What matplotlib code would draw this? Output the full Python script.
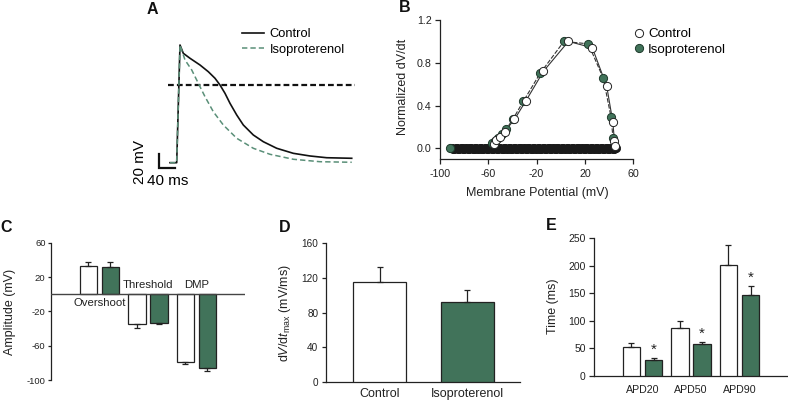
import numpy as np
import matplotlib.pyplot as plt

plt.rcParams['font.family'] = ['Liberation Sans', 'DejaVu Sans']
plt.rcParams['axes.unicode_minus'] = False
plt.rcParams['mathtext.fontset'] = 'custom'
plt.rcParams['mathtext.rm'] = 'Liberation Sans'
plt.rcParams['mathtext.it'] = 'Liberation Sans:italic'

GREEN = '#41735a'
TRACE_GREEN = '#5a8f78'
INK = '#222222'

# ---- A: action potential traces (time in ms, voltage in mV)
ap_ctrl_t = [-15, 1.75, 10, 18.3, 35, 60, 80.8, 97.5, 110, 122.5, 135, 151.8, 168.3, 193.3,
             218.3, 251.8, 293.3, 335, 376.8, 439.3]
ap_ctrl_v = [-111.1, -111.1, 57.2, 45.3, 38.2, 28.6, 19.0, 9.6, 0.0, -11.9, -26.2, -42.9, -57.2,
             -71.5, -81.1, -90.5, -97.7, -101.5, -104.0, -104.8]
ap_iso_t = [-15, 1.75, 10, 22.5, 39.3, 55.8, 72.5, 93.3, 118.3, 151.8, 193.3, 235, 293.3, 360,
            439.3]
ap_iso_v = [-111.1, -111.1, 57.2, 35.8, 21.5, 2.4, -16.7, -38.2, -57.2, -76.2, -90.5, -99.1,
            -106.2, -109.7, -110.5]
ref_level = 0.0
scale_ms = 40
scale_mv = 20

# ---- B: normalized dV/dt vs membrane potential
ctrl_up_v = [-55.0, -53.6, -50.5, -46.6, -38.4, -29.1, -14.4, 6.3, 26.1, 38.0, 43.0, 44.4, 45.0]
ctrl_up_d = [0.04, 0.08, 0.11, 0.155, 0.27, 0.44, 0.72, 1.0, 0.94, 0.58, 0.25, 0.07, 0.02]
iso_up_v = [-57.2, -54.4, -51.7, -48.9, -45.3, -39.8, -31.0, -17.2, 2.6, 22.8, 35.2, 41.6, 43.2]
iso_up_d = [0.05, 0.07, 0.10, 0.13, 0.177, 0.27, 0.44, 0.70, 1.0, 0.977, 0.654, 0.29, 0.094]
iso_rest_v = [-91.7]
iso_rest_d = [0.0]
# repolarisation phase: dense points sitting on dV/dt ~ 0
ctrl_repol_v = [-90, -88, -86, -84, -82, -80, -78, -76, -74, -72, -70, -68, -66, -64, -62, -60,
                -58, -56, -54, -52, -50, -48, -46, -44, -42, -40, -38, -36, -34, -32, -30, -28,
                -26, -24, -22, -20, -18, -16, -14, -12, -10, -8, -6, -4, -2, 0, 2, 4, 6, 8, 10,
                12, 14, 16, 18, 20, 22, 24, 26, 28, 30, 32, 34, 36, 38, 40, 42, 44, 46]
iso_repol_v = [-91, -89, -87, -85, -83, -81, -79, -77, -75, -73, -71, -69, -67, -65, -63, -61,
               -59, -57, -55, -53, -51, -49, -47, -45, -43, -41, -39, -37, -35, -33, -31, -29,
               -27, -25, -23, -21, -19, -17, -15, -13, -11, -9, -7, -5, -3, -1, 1, 3, 5, 7, 9,
               11, 13, 15, 17, 19, 21, 23, 25, 27, 29, 31, 33, 35, 37, 39, 41, 43, 45]
repol_d = [0.0, -0.004, 0.003, -0.002]

# ---- C: amplitudes (mV)
c_names = ['Overshoot', 'Threshold', 'DMP']
c_ctrl = [33.2, -34.7, -79.4]
c_ctrl_err = [4.7, 5.1, 1.6]
c_iso = [32.0, -34.0, -86.4]
c_iso_err = [5.5, 1.1, 2.7]

# ---- D: max upstroke velocity (mV/ms)
d_names = ['Control', 'Isoproterenol']
d_vals = [115.6, 92.2]
d_err = [16.6, 13.8]

# ---- E: action potential durations (ms)
e_names = ['APD20', 'APD50', 'APD90']
e_ctrl = [52.2, 86.7, 201.3]
e_ctrl_err = [7.3, 13.9, 36.3]
e_iso = [29.1, 58.2, 147.3]
e_iso_err = [3.0, 3.0, 15.7]

W, H = 788, 401
fig = plt.figure(figsize=(W / 100, H / 100), dpi=100)


def box(left, top, right, bottom):
    return [left / W, 1 - bottom / H, (right - left) / W, (bottom - top) / H]


def style(ax, ysize, ylen=3, ypad=2):
    for s in ['top', 'right']:
        ax.spines[s].set_visible(False)
    for s in ['left', 'bottom']:
        ax.spines[s].set_color(INK)
        ax.spines[s].set_linewidth(0.9)
    ax.tick_params(axis='y', direction='out', length=ylen, width=0.9, pad=ypad,
                   labelsize=ysize, colors=INK)
    ax.tick_params(axis='x', length=0, colors=INK)


def one_sided(vals, errs):
    lo = [e if v < 0 else 0 for v, e in zip(vals, errs)]
    hi = [e if v >= 0 else 0 for v, e in zip(vals, errs)]
    return [lo, hi]


def panel_label(txt, x, y):
    fig.text(x / W, 1 - y / H, txt, ha='center', va='center', fontsize=11.5,
             fontweight='bold', color='#111111')


# ================= A
axA = fig.add_axes(box(120, 30, 360, 190))
axA.set_xlim(-140, 460)
axA.set_ylim(-150.15, 78.65)
axA.axis('off')
axA.plot([-20, 447.5], [ref_level, ref_level], color='#111111', lw=1.6, ls=(0, (2.6, 1.4)))
axA.plot(ap_ctrl_t, ap_ctrl_v, color='#111111', lw=1.2, label='Control')
axA.plot(ap_iso_t, ap_iso_v, color=TRACE_GREEN, lw=1.1, ls=(0, (3.5, 2)), label='Isoproterenol')
sb_t, sb_v = -42.5, -118.7
axA.plot([sb_t, sb_t, sb_t + scale_ms], [sb_v + scale_mv, sb_v, sb_v], color='#111111', lw=1.6,
         solid_joinstyle='miter')
axA.text(sb_t + 22.5, sb_v - 18.6, '%d ms' % scale_ms, ha='center', va='center', fontsize=11)
axA.text(sb_t - 47.5, sb_v + 8.7, '%d mV' % scale_mv, ha='center', va='center', fontsize=11,
         rotation=90)
axA.legend(loc='upper left', bbox_to_anchor=(242 / W, 1 - 28 / H), bbox_transform=fig.transFigure,
           frameon=False, fontsize=9.3, handlelength=1.7, handletextpad=0.45, borderpad=0,
           borderaxespad=0, labelspacing=0.28)
panel_label('A', 152, 10)

# ================= B
axB = fig.add_axes(box(440, 20, 633.3, 159))
style(axB, 7.7, ylen=3.5, ypad=2.5)
axB.tick_params(axis='x', direction='out', length=3.5, width=0.9, pad=3.5, labelsize=7.7)
axB.set_xlim(-100, 60)
axB.set_ylim(-0.1, 1.2)
axB.set_xticks([-100, -60, -20, 20, 60])
axB.set_yticks([0, 0.4, 0.8, 1.2])
axB.set_yticklabels(['0.0', '0.4', '0.8', '1.2'])
ms = 5.9
for repol_v in [ctrl_repol_v, iso_repol_v]:
    yy = [repol_d[i % len(repol_d)] for i in range(len(repol_v))]
    axB.plot(repol_v, yy, 'o', ms=ms, mfc='#1a1a1a', mec='#1a1a1a', mew=0.6, zorder=2)
axB.plot(iso_up_v, iso_up_d, color='#333333', lw=0.8, ls=(0, (4, 1.5)), zorder=3)
axB.plot(ctrl_up_v, ctrl_up_d, color='#333333', lw=0.8, zorder=3)
axB.plot(iso_rest_v + iso_up_v, iso_rest_d + iso_up_d, 'o', ls='none', ms=ms, mfc=GREEN,
         mec='#1e3a2c', mew=0.7, zorder=4, label='Isoproterenol')
axB.plot(ctrl_up_v, ctrl_up_d, 'o', ls='none', ms=ms, mfc='white', mec='#222222', mew=0.7,
         zorder=5, label='Control')
h, l = axB.get_legend_handles_labels()
axB.legend(h[::-1], l[::-1], loc='upper left', bbox_to_anchor=(634 / W, 1 - 28 / H),
           bbox_transform=fig.transFigure, frameon=False, fontsize=9.6, handlelength=0.7,
           handletextpad=0.35, borderpad=0, borderaxespad=0, labelspacing=0.22)
axB.set_ylabel('Normalized dV/dt', fontsize=9, va='center', color=INK)
axB.yaxis.set_label_coords(-0.191, 0.518)
axB.set_xlabel('Membrane Potential (mV)', fontsize=9, va='center', color=INK)
axB.xaxis.set_label_coords(0.502, -0.245)
panel_label('B', 405, 8)

# ================= C
axC = fig.add_axes(box(50.7, 242.7, 245, 380))
style(axC, 6.8, ylen=2.5, ypad=1.2)
axC.spines['bottom'].set_visible(False)
axC.set_xlim(0, 4)
axC.set_ylim(-100, 60)
axC.set_yticks([-100, -60, -20, 20, 60])
axC.set_xticks([])
xc = np.arange(1, len(c_names) + 1)
off, bw = 0.227, 0.36
ek = dict(ecolor=INK, elinewidth=0.9, capsize=2.5, capthick=0.9)
axC.bar(xc - off, c_ctrl, bw, color='white', edgecolor=INK, lw=0.9,
        yerr=one_sided(c_ctrl, c_ctrl_err), error_kw=ek, zorder=3)
axC.bar(xc + off, c_iso, bw, color=GREEN, edgecolor=INK, lw=0.9,
        yerr=one_sided(c_iso, c_iso_err), error_kw=ek, zorder=3)
axC.axhline(0, color='#444444', lw=1.0, zorder=4)
for x, name, v in zip(xc, c_names, c_ctrl):
    axC.text(x, -10.3 if v > 0 else 10.7, name, ha='center', va='center', fontsize=8.2,
             color=INK)
axC.set_ylabel('Amplitude (mV)', fontsize=9, va='center', color=INK)
axC.yaxis.set_label_coords(-0.209, 0.497)
panel_label('C', 6, 227)

# ================= D
axD = fig.add_axes(box(326, 243.3, 520, 382))
style(axD, 7.2, ylen=3, ypad=2.5)
axD.set_xlim(0.39, 2.6)
axD.set_ylim(0, 160)
axD.set_yticks([0, 40, 80, 120, 160])
xd = np.arange(1, len(d_names) + 1)
axD.bar(xd, d_vals, 0.61, color=['white', GREEN], edgecolor=INK, lw=0.9,
        yerr=[[0, 0], d_err], error_kw=ek, zorder=3)
axD.set_xticks(xd)
axD.set_xticklabels(d_names, fontsize=9)
axD.tick_params(axis='x', pad=4)
axD.set_ylabel(r'd$V$/d$t_{\mathrm{max}}$ (mV/ms)', fontsize=9, va='center', color=INK)
axD.yaxis.set_label_coords(-0.211, 0.497)
panel_label('D', 285, 227)

# ================= E
axE = fig.add_axes(box(594, 238.3, 788, 376))
style(axE, 7.5, ylen=3.5, ypad=2.5)
axE.set_xlim(0, 4)
axE.set_ylim(0, 250)
axE.set_yticks([0, 50, 100, 150, 200, 250])
xe = np.arange(1, len(e_names) + 1)
axE.bar(xe - off, e_ctrl, bw, color='white', edgecolor=INK, lw=0.9,
        yerr=[[0] * 3, e_ctrl_err], error_kw=ek, zorder=3)
axE.bar(xe + off, e_iso, bw, color=GREEN, edgecolor=INK, lw=0.9,
        yerr=[[0] * 3, e_iso_err], error_kw=ek, zorder=3)
for x, v, e in zip(xe, e_iso, e_iso_err):
    axE.text(x + off, v + e + 2, '*', ha='center', va='bottom', fontsize=11, color=INK)
axE.set_xticks(xe)
axE.set_xticklabels(e_names, fontsize=7.7)
axE.tick_params(axis='x', pad=6.5)
axE.set_ylabel('Time (ms)', fontsize=9, va='center', color=INK)
axE.yaxis.set_label_coords(-0.211, 0.503)
panel_label('E', 551, 226)

fig.savefig('out.png', dpi=100)
